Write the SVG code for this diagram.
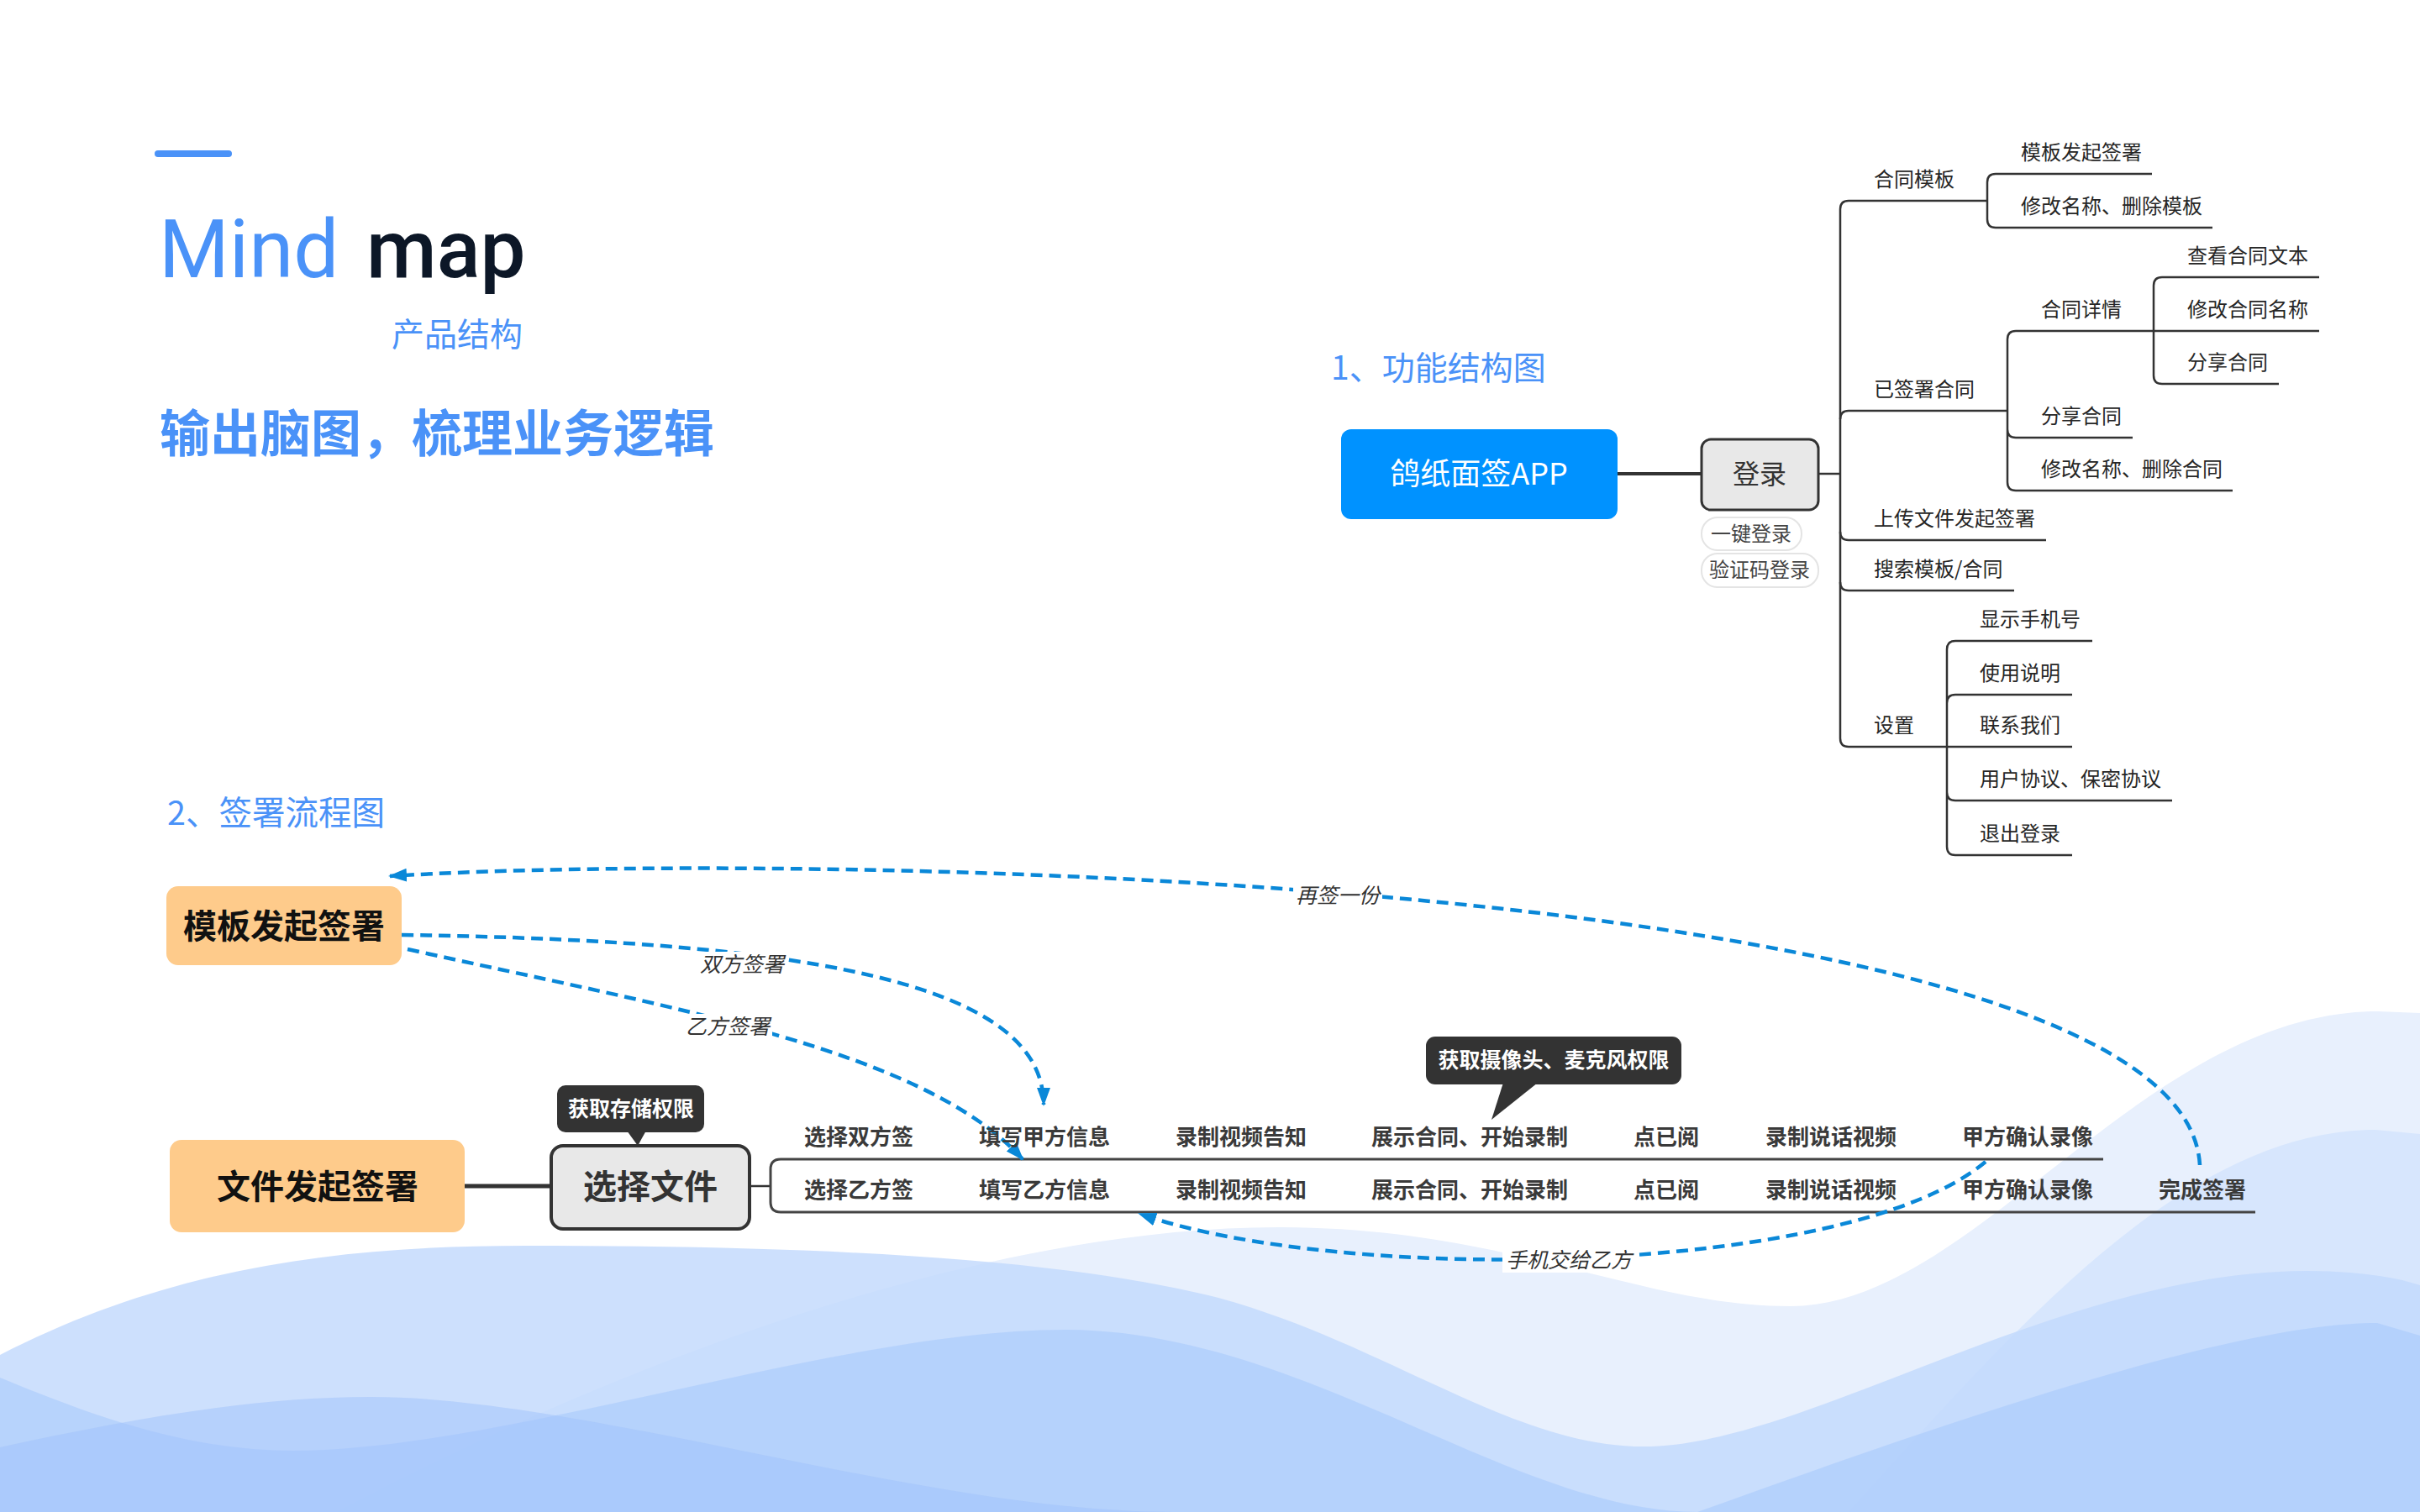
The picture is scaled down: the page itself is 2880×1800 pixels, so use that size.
<svg xmlns="http://www.w3.org/2000/svg" width="2880" height="1800" viewBox="0 0 2880 1800">
<defs>
<style>
.cjk{font-family:"Noto Sans CJK SC","Noto Sans",sans-serif}
.blue{fill:#4A92F8}
.tree{font-family:"Noto Sans CJK SC",sans-serif;font-size:24px;fill:#262626}
.tl{fill:none;stroke:#333;stroke-width:2.5}
.flow{font-family:"Noto Sans CJK SC",sans-serif;font-size:26px;font-weight:700;fill:#3a3a3a}
.dash{fill:none;stroke:#0A88D8;stroke-width:4.5;stroke-dasharray:14 8}
.lbl{font-family:"Noto Sans CJK SC",sans-serif;font-size:25px;font-style:italic;fill:#333;text-anchor:middle}
.call{font-family:"Noto Sans CJK SC",sans-serif;font-size:25px;font-weight:700;fill:#fff;text-anchor:middle}
</style>
<marker id="arr" markerWidth="22" markerHeight="16" refX="20" refY="8" orient="auto" markerUnits="userSpaceOnUse">
<path d="M0,0 L22,8 L0,16 Z" fill="#0A88D8"/>
</marker>
</defs>
<rect width="2880" height="1800" fill="#ffffff"/>
<g id="waves">
<path d="M400,1800 C700,1640 1150,1460 1525,1461 C1800,1462 1950,1555 2131,1555 C2350,1555 2550,1204 2830,1204 L2880,1206 L2880,1800 Z" fill="#E8F0FD"/>
<path d="M2200,1800 C2400,1580 2600,1345 2827,1345 L2880,1350 L2880,1800 Z" fill="#D7E6FD"/>
<path d="M0,1613 C200,1510 400,1483 625,1483 C950,1483 1250,1495 1450,1545 C1650,1600 1800,1722 1956,1722 C2150,1722 2450,1513 2746,1513 C2800,1513 2850,1520 2880,1530 L2880,1800 L0,1800 Z" fill="#C2D9FC" fill-opacity="0.82"/>
<path d="M0,1640 C120,1690 230,1727 349,1727 C600,1727 1000,1583 1267,1583 C1550,1583 1800,1800 2020,1800 C2300,1700 2650,1575 2829,1575 L2880,1590 L2880,1800 L0,1800 Z" fill="#A9C9FC" fill-opacity="0.6"/>
<path d="M0,1723 C150,1690 300,1663 441,1663 C700,1663 1100,1800 1396,1800 L0,1800 Z" fill="#9FC2FC" fill-opacity="0.5"/>
</g>
<g id="title">
<rect x="184" y="179" width="92" height="8" rx="4" fill="#4A92F8"/>
<text x="189" y="330" font-family="Roboto,sans-serif" font-size="96" fill="#4A92F8">Mind</text>
<text x="436" y="330" font-family="Roboto,sans-serif" font-size="96" font-weight="500" fill="#0C1727">map</text>
<text x="466" y="412" class="cjk blue" font-size="39">产品结构</text>
<text x="190" y="538" class="cjk blue" font-size="60" font-weight="700">输出脑图，梳理业务逻辑</text>
<text x="1584" y="452" class="cjk blue" font-size="39">1、功能结构图</text>
<text x="199" y="982" class="cjk blue" font-size="39.5">2、签署流程图</text>
</g>
<g id="connectors">
<line x1="1925" y1="564" x2="2025" y2="564" stroke="#333" stroke-width="4"/>
<line x1="2164" y1="564" x2="2190" y2="564" class="tl"/>
<path class="tl" d="M2190,249 L2190,879"/>
<path class="tl" d="M2190,249 Q2190,239 2200,239 L2365,239"/>
<path class="tl" d="M2365,217 L2365,261 M2365,217 Q2365,207 2375,207 L2561,207 M2365,261 Q2365,271 2375,271 L2633,271"/>
<path class="tl" d="M2190,499 Q2190,489 2200,489 L2389,489"/>
<path class="tl" d="M2389,404 L2389,574 M2389,404 Q2389,394 2399,394 L2760,394 M2389,511 Q2389,521 2399,521 L2538,521 M2389,574 Q2389,584 2399,584 L2657,584"/>
<path class="tl" d="M2563,340 L2563,447 M2563,340 Q2563,330 2573,330 L2760,330 M2563,447 Q2563,457 2573,457 L2712,457"/>
<path class="tl" d="M2190,633 Q2190,643 2200,643 L2435,643"/>
<path class="tl" d="M2190,693 Q2190,703 2200,703 L2397,703"/>
<path class="tl" d="M2190,879 Q2190,889 2200,889 L2466,889"/>
<path class="tl" d="M2317,773 L2317,1008 M2317,773 Q2317,763 2327,763 L2490,763 M2317,837 Q2317,827 2327,827 L2466,827 M2317,943 Q2317,953 2327,953 L2585,953 M2317,1008 Q2317,1018 2327,1018 L2466,1018"/>
<line x1="553" y1="1412" x2="656" y2="1412" stroke="#333" stroke-width="5"/>
<line x1="892" y1="1412" x2="917" y2="1412" stroke="#333" stroke-width="2.5"/>
<path d="M2503,1380 L929,1380 Q917,1380 917,1392 L917,1431 Q917,1443 929,1443 L2684,1443" fill="none" stroke="#444" stroke-width="3"/>
<path class="dash" d="M478,1113 C1000,1120 1242,1180 1242,1315" marker-end="url(#arr)"/>
<path class="dash" d="M485,1130 C800,1200 1100,1250 1217,1380" marker-end="url(#arr)"/>
<path class="dash" d="M2618,1387 C2600,1050 1000,1010 464,1043" marker-end="url(#arr)"/>
<path class="dash" d="M2363,1383 C2200,1520 1600,1530 1356,1445" marker-end="url(#arr)"/>
<rect x="830" y="1133" width="106" height="30" fill="#fff"/>
<text x="883" y="1157" class="lbl">双方签署</text>
<rect x="813" y="1207" width="106" height="30" fill="#fff"/>
<text x="866" y="1231" class="lbl">乙方签署</text>
<rect x="1539" y="1051" width="106" height="30" fill="#fff"/>
<text x="1592" y="1075" class="lbl">再签一份</text>
<rect x="1788" y="1485" width="158" height="30" fill="#fff"/>
<text x="1867" y="1509" class="lbl">手机交给乙方</text>
</g>
<g id="node-app">
<rect x="1596" y="511" width="329" height="107" rx="12" fill="#0092FF"/>
<text x="1760" y="577" class="cjk" font-size="36" fill="#fff" text-anchor="middle">鸽纸面签APP</text>
</g>
<g id="node-login">
<rect x="2025" y="523" width="139" height="84" rx="11" fill="#E8E8E8" stroke="#333" stroke-width="3"/>
<text x="2094" y="576" class="cjk" font-size="32" fill="#333" text-anchor="middle">登录</text>
</g>
<g id="node-login-sub">
<rect x="2025" y="616" width="119" height="39" rx="19" fill="#fff" stroke="#E4E4E4" stroke-width="2"/>
<text x="2084" y="644" class="cjk" font-size="24" fill="#444" text-anchor="middle">一键登录</text>
<rect x="2025" y="659" width="139" height="40" rx="19" fill="#fff" stroke="#E4E4E4" stroke-width="2"/>
<text x="2094" y="687" class="cjk" font-size="24" fill="#444" text-anchor="middle">验证码登录</text>
</g>
<g id="tree-nodes">
<text x="2230" y="222" class="tree">合同模板</text>
<text x="2405" y="190" class="tree">模板发起签署</text>
<text x="2405" y="254" class="tree">修改名称、删除模板</text>
<text x="2230" y="472" class="tree">已签署合同</text>
<text x="2429" y="377" class="tree">合同详情</text>
<text x="2603" y="313" class="tree">查看合同文本</text>
<text x="2603" y="377" class="tree">修改合同名称</text>
<text x="2603" y="440" class="tree">分享合同</text>
<text x="2429" y="504" class="tree">分享合同</text>
<text x="2429" y="567" class="tree">修改名称、删除合同</text>
<text x="2230" y="626" class="tree">上传文件发起签署</text>
<text x="2230" y="686" class="tree">搜索模板/合同</text>
<text x="2230" y="872" class="tree">设置</text>
<text x="2356" y="746" class="tree">显示手机号</text>
<text x="2356" y="810" class="tree">使用说明</text>
<text x="2356" y="872" class="tree">联系我们</text>
<text x="2356" y="936" class="tree">用户协议、保密协议</text>
<text x="2356" y="1001" class="tree">退出登录</text>
</g>
<g id="node-template-sign">
<rect x="198" y="1055" width="280" height="94" rx="14" fill="#FECB8B"/>
<text x="338" y="1117" class="cjk" font-size="40" font-weight="700" fill="#111" text-anchor="middle">模板发起签署</text>
</g>
<g id="node-file-sign">
<rect x="202" y="1357" width="351" height="110" rx="14" fill="#FECB8B"/>
<text x="378" y="1427" class="cjk" font-size="40" font-weight="700" fill="#111" text-anchor="middle">文件发起签署</text>
</g>
<g id="node-select-file">
<rect x="656" y="1364" width="236" height="99" rx="14" fill="#E8E8E8" stroke="#333" stroke-width="4"/>
<text x="774" y="1427" class="cjk" font-size="40" font-weight="700" fill="#333" text-anchor="middle">选择文件</text>
</g>
<g id="callout-storage">
<rect x="663" y="1292" width="175" height="56" rx="10" fill="#333"/>
<path d="M746,1346 L769,1346 L759,1364 Z" fill="#333"/>
<text x="751" y="1329" class="call">获取存储权限</text>
</g>
<g id="callout-camera">
<rect x="1697" y="1234" width="304" height="57" rx="11" fill="#333"/>
<path d="M1789,1289 L1830,1289 L1775,1333 Z" fill="#333"/>
<text x="1849" y="1271" class="call">获取摄像头、麦克风权限</text>
</g>
<g id="flow-row-a">
<text x="957" y="1363" class="flow">选择双方签</text>
<text x="1165" y="1363" class="flow">填写甲方信息</text>
<text x="1399" y="1363" class="flow">录制视频告知</text>
<text x="1632" y="1363" class="flow">展示合同、开始录制</text>
<text x="1944" y="1363" class="flow">点已阅</text>
<text x="2101" y="1363" class="flow">录制说话视频</text>
<text x="2335" y="1363" class="flow">甲方确认录像</text>
</g>
<g id="flow-row-b">
<text x="957" y="1426" class="flow">选择乙方签</text>
<text x="1165" y="1426" class="flow">填写乙方信息</text>
<text x="1399" y="1426" class="flow">录制视频告知</text>
<text x="1632" y="1426" class="flow">展示合同、开始录制</text>
<text x="1944" y="1426" class="flow">点已阅</text>
<text x="2101" y="1426" class="flow">录制说话视频</text>
<text x="2335" y="1426" class="flow">甲方确认录像</text>
<text x="2569" y="1426" class="flow">完成签署</text>
</g>
</svg>
